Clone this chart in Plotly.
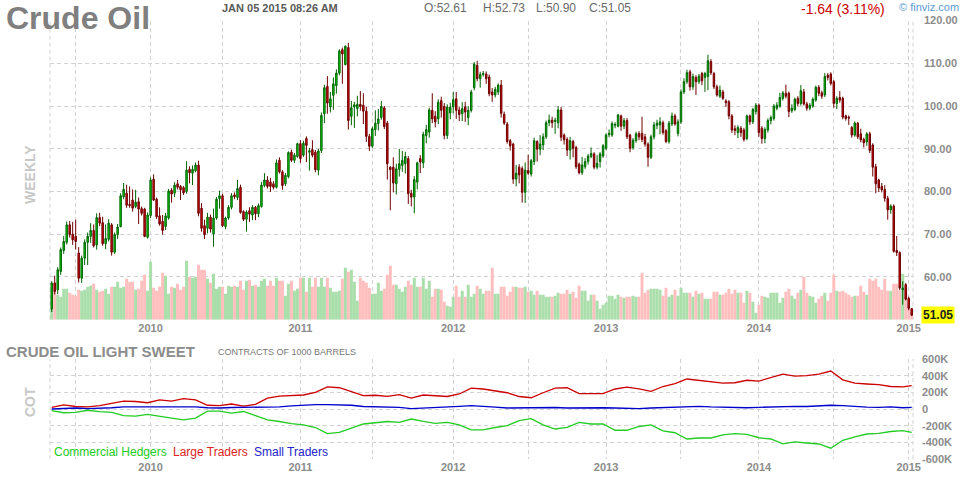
import plotly.graph_objects as go

# ---------------- weekly OHLC ----------------
open_ = [
52.5, 58.6, 57.0, 61.3, 66.2, 68.1, 72.2, 70.0, 69.5, 65.6,
59.7, 64.4, 68.1, 69.5, 70.9, 67.5, 73.9, 72.7, 67.8, 68.8,
72.2, 65.8, 69.9, 71.8, 78.8, 79.6, 77.0, 78.0, 76.5, 77.6,
76.0, 75.9, 69.3, 74.4, 82.9, 78.2, 74.3, 73.0, 71.8, 73.8,
80.3, 79.6, 81.8, 81.2, 80.9, 80.0, 85.2, 84.3, 84.9, 86.2,
76.1, 72.0, 71.4, 74.0, 70.1, 73.8, 78.3, 79.0, 71.8, 73.8,
76.3, 79.2, 78.6, 81.0, 75.3, 73.5, 75.5, 74.5, 76.3, 74.8,
76.5, 81.4, 82.7, 82.2, 81.8, 81.0, 87.3, 84.6, 81.8, 83.5,
89.2, 87.3, 88.2, 91.2, 88.5, 92.4, 89.2, 89.8, 89.2, 85.0,
89.6, 98.2, 104.6, 99.8, 102.5, 104.8, 107.7, 113.2, 109.7, 113.7,
97.6, 99.8, 99.4, 100.4, 100.2, 98.8, 92.9, 90.6, 94.5, 95.9,
97.3, 99.6, 96.0, 85.7, 85.7, 81.8, 85.2, 86.1, 86.5, 87.7,
79.6, 78.7, 82.2, 87.7, 86.7, 93.1, 93.9, 99.0, 97.6, 97.0,
101.3, 99.9, 93.1, 98.4, 99.8, 101.7, 99.1, 98.2, 99.8, 97.3,
99.0, 104.3, 109.5, 106.4, 107.4, 107.5, 106.8, 103.3, 102.6, 103.3,
104.9, 98.1, 95.8, 91.9, 91.1, 82.9, 85.7, 85.4, 79.8, 84.9,
84.1, 87.0, 91.7, 89.9, 90.9, 92.8, 96.1, 96.7, 96.4, 96.1,
99.1, 93.2, 92.2, 89.7, 91.7, 90.3, 86.4, 84.4, 85.8, 87.0,
88.2, 88.8, 85.7, 87.0, 88.3, 90.1, 93.3, 93.2, 95.5, 95.3,
97.7, 95.3, 96.6, 93.2, 90.3, 91.9, 93.6, 93.6, 92.8, 91.1,
88.0, 92.8, 95.5, 95.6, 96.1, 94.2, 91.7, 95.8, 97.7, 93.6,
96.3, 103.3, 105.7, 108.0, 104.5, 106.7, 105.7, 107.6, 106.7, 106.9,
110.4, 107.6, 104.5, 102.3, 103.3, 101.2, 101.0, 97.7, 94.7, 93.8,
94.8, 94.4, 92.4, 97.7, 96.3, 98.7, 100.2, 94.8, 92.4, 94.4,
96.6, 97.1, 99.5, 100.0, 101.8, 103.0, 103.0, 98.9, 99.2, 101.8,
100.6, 103.3, 100.5, 99.5, 100.0, 101.4, 104.4, 103.1, 102.6, 107.2,
107.5, 105.7, 100.6, 102.0, 101.8, 97.7, 97.4, 95.0, 93.2, 96.0,
93.5, 92.2, 91.6, 93.5, 90.9, 85.8, 82.7, 81.2, 80.5, 78.4,
75.7, 76.6, 66.2, 65.7, 57.0, 58.2, 55.0, 52.61]

high = [
59.0, 60.3, 62.3, 66.9, 69.6, 73.0, 73.1, 72.9, 73.4, 67.0,
65.0, 68.8, 70.4, 72.6, 72.3, 74.9, 75.0, 74.1, 72.3, 73.5,
72.6, 70.4, 72.4, 79.6, 82.0, 81.6, 81.2, 80.5, 80.4, 78.6,
76.5, 76.2, 75.1, 83.3, 84.0, 78.6, 76.3, 74.5, 75.0, 80.6,
80.8, 82.2, 82.7, 81.5, 81.3, 87.1, 85.9, 86.1, 86.8, 87.2,
77.3, 73.4, 75.0, 74.6, 76.0, 78.7, 80.2, 79.5, 74.1, 76.8,
79.6, 79.8, 82.7, 81.6, 75.6, 75.6, 76.3, 76.8, 76.6, 77.2,
82.2, 84.3, 83.6, 83.2, 82.4, 87.5, 88.0, 85.0, 84.3, 89.4,
89.8, 89.0, 91.4, 92.0, 91.9, 92.9, 90.2, 92.0, 89.7, 90.0,
98.5, 105.0, 107.0, 103.3, 106.7, 108.6, 113.3, 113.7, 114.2, 114.8,
101.2, 101.0, 102.4, 103.5, 103.0, 99.8, 93.5, 95.2, 99.0, 99.3,
101.2, 100.0, 96.5, 85.9, 88.0, 86.5, 90.0, 89.5, 89.3, 88.3,
80.4, 83.6, 87.0, 88.5, 94.0, 95.6, 99.6, 103.0, 98.8, 101.6,
102.2, 100.7, 100.4, 100.8, 103.3, 103.3, 99.8, 100.9, 101.0, 100.0,
103.8, 110.3, 110.6, 108.0, 108.2, 108.1, 107.4, 104.2, 104.5, 105.3,
106.1, 98.7, 96.3, 92.3, 91.4, 86.2, 86.4, 85.9, 86.8, 88.6,
87.6, 92.6, 92.0, 93.2, 93.6, 96.6, 98.0, 97.5, 97.3, 100.0,
99.8, 93.6, 92.7, 92.8, 92.1, 90.7, 86.8, 88.1, 87.8, 88.8,
90.3, 89.2, 88.5, 89.2, 91.1, 93.6, 94.5, 96.4, 96.2, 98.2,
98.0, 97.2, 97.2, 93.5, 92.5, 94.0, 94.1, 97.5, 93.5, 91.5,
93.3, 96.3, 96.8, 97.4, 96.6, 94.6, 96.5, 98.5, 98.2, 96.9,
103.9, 106.5, 108.5, 108.5, 107.6, 107.2, 107.5, 108.0, 108.0, 112.0,
111.0, 108.0, 105.0, 104.8, 103.8, 101.6, 101.4, 98.1, 95.5, 95.5,
95.3, 94.9, 98.0, 98.0, 99.6, 100.7, 100.6, 95.3, 95.0, 97.1,
97.8, 100.5, 100.9, 103.1, 103.5, 105.0, 103.4, 100.4, 102.0, 102.3,
104.9, 104.0, 101.0, 100.7, 102.0, 104.8, 104.9, 103.6, 107.7, 107.7,
107.9, 106.1, 102.3, 103.5, 102.2, 98.0, 97.8, 95.3, 96.4, 96.3,
94.7, 92.6, 93.9, 94.0, 91.3, 86.5, 83.0, 82.0, 81.5, 79.0,
77.0, 77.0, 69.6, 66.0, 59.0, 58.6, 55.4, 52.73]

low = [
51.8, 55.9, 56.0, 60.5, 65.4, 67.6, 69.2, 67.5, 66.4, 58.7,
58.6, 62.8, 62.8, 68.0, 66.9, 66.4, 71.9, 67.3, 66.5, 68.3,
65.0, 65.4, 68.9, 71.6, 78.2, 76.2, 76.2, 75.3, 76.1, 72.4,
74.4, 69.3, 69.0, 73.8, 77.8, 73.6, 72.0, 69.9, 71.0, 73.4,
77.4, 78.7, 80.5, 78.0, 79.2, 79.5, 81.9, 81.5, 84.5, 74.2,
70.6, 68.9, 70.2, 70.4, 67.1, 73.4, 76.0, 71.7, 71.2, 73.4,
75.8, 78.2, 78.0, 74.8, 73.1, 70.6, 72.9, 73.3, 73.3, 74.0,
76.2, 81.0, 80.7, 79.9, 80.5, 80.7, 84.2, 80.4, 81.3, 83.1,
86.9, 86.7, 87.9, 86.7, 88.1, 86.9, 84.9, 88.0, 84.5, 83.8,
89.0, 96.0, 98.2, 98.5, 99.1, 102.9, 107.2, 105.2, 109.5, 94.5,
95.5, 94.9, 97.6, 98.9, 95.8, 91.6, 89.5, 90.2, 93.0, 94.3,
96.8, 94.6, 82.8, 75.6, 79.8, 79.3, 83.5, 84.6, 84.2, 77.1,
76.5, 74.9, 80.5, 84.3, 85.5, 91.3, 92.6, 96.0, 95.0, 95.8,
97.3, 92.2, 92.3, 96.9, 98.3, 97.0, 96.5, 96.5, 96.3, 95.5,
98.5, 103.7, 105.8, 104.3, 106.9, 105.2, 102.3, 101.0, 102.0, 102.6,
97.3, 95.6, 91.2, 89.6, 81.8, 81.2, 81.9, 77.4, 77.3, 83.9,
83.5, 86.2, 87.0, 88.5, 89.7, 92.3, 95.3, 94.9, 93.5, 94.8,
91.8, 91.0, 88.3, 87.5, 88.0, 85.3, 84.0, 83.9, 85.3, 86.3,
87.8, 85.2, 85.2, 85.6, 87.9, 89.7, 92.7, 92.8, 94.8, 95.0,
94.2, 94.6, 92.3, 89.2, 89.8, 91.4, 92.0, 91.6, 90.5, 85.8,
87.6, 92.2, 94.6, 93.4, 93.3, 91.3, 91.2, 95.3, 95.4, 92.9,
95.8, 102.8, 105.2, 103.6, 103.8, 102.6, 105.2, 104.9, 103.3, 103.7,
107.3, 104.0, 102.2, 101.9, 101.4, 99.8, 96.9, 93.7, 93.2, 92.5,
92.8, 91.7, 92.0, 95.6, 95.8, 98.0, 92.8, 91.2, 91.3, 93.8,
95.7, 96.6, 99.0, 99.6, 101.3, 101.8, 97.4, 98.4, 98.8, 99.9,
100.1, 100.1, 98.9, 99.0, 99.6, 101.0, 102.3, 101.7, 102.1, 106.0,
104.8, 99.6, 99.3, 100.8, 96.9, 96.6, 95.6, 92.6, 92.8, 92.3,
91.5, 90.3, 90.7, 89.0, 83.5, 79.6, 79.9, 79.8, 77.6, 73.4,
74.8, 65.7, 64.9, 56.9, 53.5, 54.5, 52.2, 50.90]

close = [
58.6, 56.6, 61.7, 66.4, 68.3, 72.2, 69.9, 68.7, 68.3, 59.7,
64.4, 68.1, 69.5, 70.9, 67.3, 73.9, 72.6, 67.8, 69.0, 72.6,
65.8, 69.9, 71.7, 79.0, 80.5, 76.8, 76.7, 76.1, 77.5, 75.9,
74.9, 69.5, 74.5, 82.7, 78.0, 74.1, 72.4, 70.9, 74.3, 80.1,
79.4, 81.5, 81.0, 80.4, 79.7, 85.0, 84.4, 85.2, 86.2, 74.9,
71.4, 69.9, 74.0, 71.2, 73.8, 78.2, 79.0, 72.0, 73.8, 76.3,
79.0, 78.8, 80.7, 75.1, 73.5, 75.2, 74.7, 76.3, 74.8, 76.7,
81.5, 82.7, 81.2, 81.2, 81.0, 86.7, 84.6, 81.4, 83.8, 89.1,
87.3, 88.5, 91.2, 87.7, 91.3, 90.8, 89.5, 88.5, 85.1, 89.5,
97.8, 104.3, 100.7, 101.7, 105.2, 107.7, 112.9, 112.2, 114.0, 96.6,
99.6, 100.3, 100.4, 99.9, 98.8, 92.9, 90.6, 94.7, 96.0, 97.0,
99.9, 95.2, 86.5, 85.1, 82.0, 85.3, 86.5, 87.3, 88.2, 79.5,
78.7, 82.8, 86.7, 86.9, 93.4, 94.5, 99.1, 97.0, 96.3, 100.9,
99.0, 93.1, 99.8, 99.7, 101.5, 99.0, 98.0, 99.4, 98.6, 99.0,
103.3, 109.8, 106.4, 107.4, 107.6, 106.4, 102.9, 102.6, 103.9, 104.9,
98.3, 96.0, 91.7, 90.7, 82.9, 84.3, 83.9, 79.8, 85.0, 84.3,
87.2, 91.9, 89.9, 91.1, 92.8, 96.1, 96.7, 96.1, 96.7, 99.1,
92.7, 92.1, 89.7, 91.9, 90.1, 85.8, 84.4, 86.2, 87.0, 88.3,
88.9, 85.7, 86.6, 88.8, 90.7, 93.2, 93.6, 95.9, 95.7, 97.9,
95.3, 96.6, 92.8, 90.1, 92.0, 93.5, 92.8, 92.2, 91.1, 88.0,
92.8, 95.6, 96.0, 96.3, 93.8, 91.7, 96.0, 97.7, 95.8, 96.3,
103.3, 105.7, 107.8, 104.5, 106.9, 105.7, 107.0, 105.9, 107.6, 110.6,
107.8, 104.5, 102.6, 103.7, 101.8, 100.8, 97.7, 94.4, 94.3, 95.0,
93.8, 92.2, 97.7, 96.3, 99.2, 100.2, 93.8, 92.4, 94.5, 96.6,
97.3, 100.0, 100.2, 102.0, 103.1, 102.3, 98.7, 99.5, 101.6, 100.6,
103.6, 100.5, 99.5, 100.2, 101.6, 104.4, 103.0, 102.3, 106.9, 106.7,
105.3, 100.6, 101.8, 101.4, 97.4, 97.1, 97.2, 93.2, 96.0, 92.8,
92.1, 91.4, 93.5, 89.6, 85.7, 81.8, 80.8, 80.4, 78.4, 75.7,
76.6, 66.0, 65.7, 57.4, 57.4, 54.8, 52.7, 51.05]

# weekly volume (relative units)
volume = [
11, 37, 25, 23, 31, 31, 27, 25, 24, 30,
29, 30, 33, 34, 36, 30, 28, 29, 31, 26,
33, 33, 38, 32, 33, 41, 38, 38, 30, 31,
39, 45, 29, 58, 32, 29, 33, 47, 44, 26,
33, 32, 36, 30, 33, 59, 43, 42, 43, 55,
50, 50, 41, 37, 46, 31, 33, 33, 26, 34,
33, 34, 33, 39, 30, 39, 40, 34, 35, 33,
39, 41, 34, 39, 34, 42, 39, 39, 24, 36,
39, 29, 31, 42, 42, 28, 42, 33, 42, 33,
42, 33, 42, 32, 28, 28, 29, 41, 52, 48,
50, 38, 19, 42, 39, 37, 32, 26, 26, 37,
29, 31, 45, 54, 35, 35, 31, 28, 33, 39,
35, 42, 33, 33, 42, 31, 39, 23, 31, 31,
30, 18, 14, 13, 23, 34, 23, 29, 23, 35,
23, 26, 34, 31, 26, 29, 29, 52, 26, 26,
33, 33, 24, 28, 33, 33, 32, 32, 33, 28,
29, 25, 29, 25, 25, 23, 23, 23, 24, 27,
26, 26, 30, 26, 28, 22, 34, 29, 29, 19,
25, 25, 19, 11, 15, 17, 24, 24, 21, 25,
23, 22, 23, 23, 24, 23, 23, 47, 27, 30,
31, 31, 31, 30, 24, 32, 23, 25, 30, 24,
32, 27, 27, 27, 23, 29, 26, 27, 21, 21,
21, 28, 28, 25, 25, 27, 31, 26, 30, 27,
27, 17, 29, 27, 18, 7, 15, 24, 23, 22,
27, 27, 27, 17, 22, 28, 31, 24, 21, 27,
30, 43, 27, 24, 23, 17, 21, 24, 27, 19,
27, 45, 29, 28, 29, 27, 25, 23, 24, 24,
34, 28, 25, 41, 39, 41, 33, 30, 41, 29,
29, 36, 36, 29, 46, 30, 17, 8]

# week index of half-year boundaries and their labels
period_week = [8, 33, 57, 83, 107, 134, 159, 185, 210, 236, 261, 286]
period_label = ['', '2010', '', '2011', '', '2012', '', '2013', '', '2014', '', '2015']

price_ticks = [60, 70, 80, 90, 100, 110, 120]
cot_ticks = [-600, -400, -200, 0, 200, 400, 600]
cot_tick_text = ['-600K', '-400K', '-200K', '0', '200K', '400K', '600K']

# COT net positions (thousands of contracts), sampled every 4 weeks
large_traders = [
20, 50, 30, 25, 40, 65, 95, 90, 75, 110,
95, 125, 110, 45, 40, 60, 35, 55, 130, 155,
165, 168, 200, 265, 255, 210, 160, 165, 152, 172,
130, 168, 160, 150, 180, 250, 240, 215, 195, 150,
135, 195, 250, 255, 185, 185, 185, 240, 262, 242,
212, 270, 305, 360, 345, 330, 310, 315, 345, 335,
375, 418, 395, 400, 418, 455, 350, 310, 300, 292,
270, 265, 280]
commercial_hedgers = [
-20, -45, -40, -15, -32, -40, -80, -85, -65, -90,
-110, -130, -110, -25, -25, -50, -30, -80, -130, -150,
-175, -190, -222, -295, -280, -230, -180, -165, -150, -160,
-120, -148, -172, -160, -190, -250, -250, -222, -200, -140,
-115, -190, -240, -220, -160, -180, -180, -255, -255, -210,
-190, -262, -285, -360, -348, -348, -310, -295, -305, -345,
-360, -418, -395, -408, -420, -470, -375, -335, -300, -292,
-270, -260, -280]
small_traders = [
0, 10, 12, 5, 8, 15, 25, 25, 20, 20,
22, 28, 25, 15, 12, 18, 20, 20, 22, 25,
38, 48, 52, 52, 50, 45, 30, 25, 22, 20,
5, 10, 15, 25, 32, 40, 35, 22, 12, 15,
10, 15, 18, 12, 15, 18, 15, 12, 8, 5,
12, 15, 22, 28, 32, 25, 20, 18, 15, 20,
25, 30, 32, 30, 35, 45, 40, 30, 22, 20,
25, 15, 20]

# ---------------- figure ----------------
W, H = 964, 480
FONT = 'Liberation Sans, Arial, sans-serif'
GRID = '#d2d2d2'
DASH = '4px,3px'
TICK_COLOR = '#8c8c8c'


def px(x):
    return x / W


def py(y):
    return 1 - y / H


weeks = list(range(len(close)))
cot_week = list(range(0, len(close), 4)) + [len(close) - 1]
vol_colors = ['#aadeaa' if c >= o else '#ffbfbf' for o, c in zip(open_, close)]

X_RANGE = [-0.57, len(close) - 0.57]
TOP_DOMAIN = [py(319.7), py(20.6)]
BOT_DOMAIN = [py(459), py(359)]
X_DOMAIN = [px(50), px(913)]

fig = go.Figure()
fig.add_trace(go.Bar(
    x=weeks, y=volume, width=1.0, xaxis='x', yaxis='y',
    marker=dict(color=vol_colors, line=dict(width=0)),
    hoverinfo='skip', showlegend=False))
fig.add_trace(go.Candlestick(
    x=weeks, open=open_, high=high, low=low, close=close,
    xaxis='x', yaxis='y2', whiskerwidth=0,
    increasing=dict(line=dict(color='#006400', width=1), fillcolor='#00d800'),
    decreasing=dict(line=dict(color='#6e0000', width=1), fillcolor='#dd0000'),
    showlegend=False))

for vals, col in [(commercial_hedgers, '#22cc22'),
                  (large_traders, '#cc0000'),
                  (small_traders, '#0000cc')]:
    fig.add_trace(go.Scatter(
        x=cot_week, y=vals, mode='lines', xaxis='x2', yaxis='y3',
        line=dict(color=col, width=1.3), showlegend=False))

tickfont = dict(family=FONT, size=11, color=TICK_COLOR, weight='bold')

xcommon = dict(range=X_RANGE, domain=X_DOMAIN, tickmode='array',
               tickvals=period_week, ticktext=period_label,
               showgrid=True, gridcolor=GRID, griddash=DASH, gridwidth=1,
               zeroline=False, showline=False, ticks='', tickfont=tickfont,
               fixedrange=True, automargin=False)

fig.update_layout(
    width=W, height=H, autosize=False,
    margin=dict(l=0, r=0, t=0, b=0, pad=0, autoexpand=False),
    paper_bgcolor='white', plot_bgcolor='white',
    font=dict(family=FONT),
    showlegend=False,
    xaxis=dict(anchor='y', rangeslider=dict(visible=False), **xcommon),
    xaxis2=dict(anchor='y3', **xcommon),
    yaxis=dict(domain=TOP_DOMAIN, range=[0, 299.1], visible=False,
               showgrid=False, fixedrange=True, automargin=False),
    yaxis2=dict(overlaying='y', anchor='x', side='right', range=[50, 120],
                tickmode='array', tickvals=price_ticks,
                ticktext=['%.2f' % v for v in price_ticks],
                showgrid=True, gridcolor=GRID, griddash=DASH,
                zeroline=False, showline=False, ticks='',
                ticklabelstandoff=10, tickfont=tickfont, fixedrange=True,
                automargin=False),
    yaxis3=dict(domain=BOT_DOMAIN, anchor='x2', side='right',
                range=[-600, 600], tickmode='array', tickvals=cot_ticks,
                ticktext=cot_tick_text, showgrid=True, gridcolor=GRID,
                griddash=DASH, zeroline=False, showline=False, ticks='',
                ticklabelstandoff=8, tickfont=tickfont, fixedrange=True,
                automargin=False),
)

# dashed panel borders (left / right)
shapes = []
for xd in (0, 1):
    for xref, yref in (('x domain', 'y domain'), ('x2 domain', 'y3 domain')):
        shapes.append(dict(type='line', xref=xref, yref=yref,
                           x0=xd, x1=xd, y0=0, y1=1,
                           line=dict(color=GRID, width=1, dash=DASH), layer='below'))
fig.update_layout(shapes=shapes)


def ann(text, x, y, size, color, bold=False, xanchor='left', angle=0, **kw):
    fig.add_annotation(
        text=text, x=px(x), y=py(y), xref='paper', yref='paper',
        xanchor=xanchor, yanchor='middle', showarrow=False, textangle=angle,
        font=dict(family=FONT, size=size, color=color,
                  weight='bold' if bold else 'normal'), **kw)


ann('Crude Oil', 4, 18, 32, '#7f7f7f', bold=True)
ann('JAN 05 2015 08:26 AM', 220, 8, 11, '#5a5a5a', bold=True)
ann('O:52.61', 422, 8, 12, '#6a6a6a')
ann('H:52.73', 481, 8, 12, '#6a6a6a')
ann('L:50.90', 534, 8, 12, '#6a6a6a')
ann('C:51.05', 587, 8, 12, '#6a6a6a')
ann('-1.64 (3.11%)', 799, 9, 14, '#cc0000')
ann('© finviz.com', 897, 7, 11, '#5b9bd5')
ann('WEEKLY', 30, 175, 14, '#c8c8c8', bold=True, xanchor='center', angle=-90)
ann('CRUDE OIL LIGHT SWEET', 4, 351, 15, '#8c8c8c', bold=True)
ann('CONTRACTS OF 1000 BARRELS', 216, 352, 9, '#777777')
ann('COT', 30, 402, 14, '#c8c8c8', bold=True, xanchor='center', angle=-90)
ann('Commercial Hedgers', 52, 452, 12, '#22cc22')
ann('Large Traders', 171, 452, 12, '#dd2222')
ann('Small Traders', 252, 452, 12, '#2222cc')

# last price marker
fig.add_annotation(
    text='51.05', x=px(921), y=close[-1], xref='paper', yref='y2',
    xanchor='left', yanchor='middle', showarrow=False,
    bgcolor='#ffff00', borderpad=1,
    font=dict(family=FONT, size=12, color='#222222', weight='bold'))

fig.write_html('out.html')
